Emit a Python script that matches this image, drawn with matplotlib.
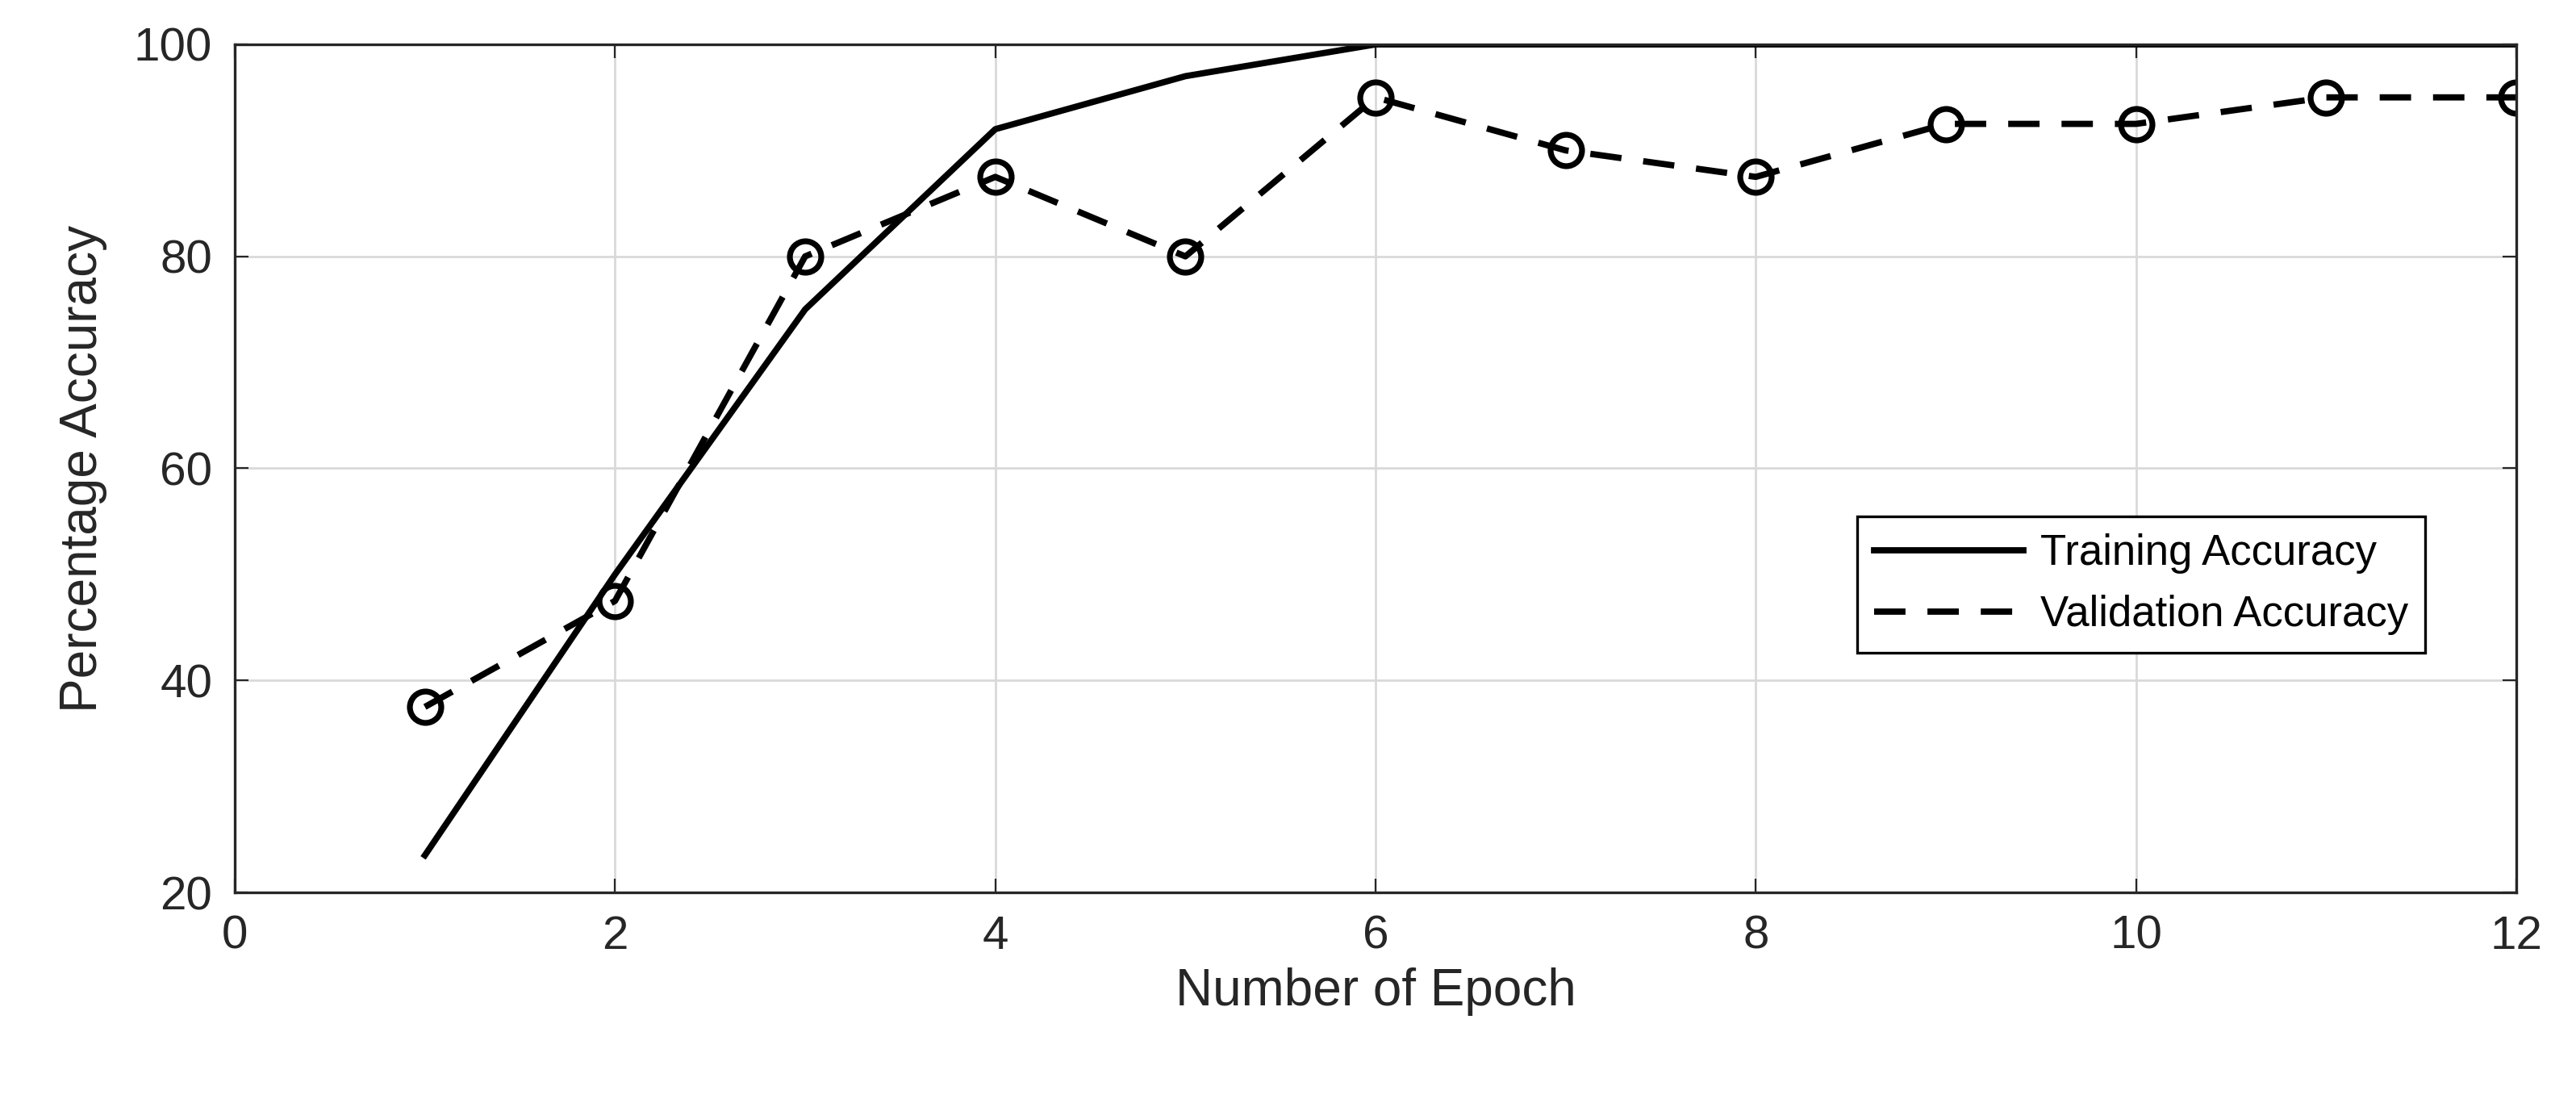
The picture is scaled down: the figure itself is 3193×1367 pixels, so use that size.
import numpy as np
import matplotlib.pyplot as plt

epochs = [1, 2, 3, 4, 5, 6, 7, 8, 9, 10, 11, 12]
train_acc = [23.5, 50, 75, 92, 97, 100, 100, 100, 100, 100, 100, 100]
val_acc = [37.5, 47.5, 80, 87.5, 80, 95, 90, 87.5, 92.5, 92.5, 95, 95]

plt.rcParams['font.family'] = ['Liberation Sans', 'DejaVu Sans']

fig = plt.figure(figsize=(15.965, 6.835), dpi=200)
ax = fig.add_axes([291/3193, 1 - 1106/1367, (3119-291)/3193, (1106-55)/1367])

ax.plot(epochs, train_acc, 'k-', lw=2.8, label='Training Accuracy')
ax.plot(epochs, val_acc, 'k--', lw=2.8, marker='o', markersize=14, markerfacecolor='none',
        markeredgewidth=2.6, dashes=(5, 3.5), label='Validation Accuracy')

ax.set_xlim(0, 12)
ax.set_ylim(20, 100)
ax.set_xticks(range(0, 13, 2))
ax.set_yticks(range(20, 101, 20))
ax.grid(True, color='#d9d9d9', lw=1)
ax.tick_params(labelsize=21, direction='in', length=6, pad=10, colors='#262626', top=True, right=True)
for s in ax.spines.values():
    s.set_color('#262626')
    s.set_linewidth(1.2)
ax.set_xlabel('Number of Epoch', fontsize=23, color='#262626', labelpad=4)
ax.set_ylabel('Percentage Accuracy', fontsize=23, color='#262626', labelpad=12)

leg = ax.legend(loc='lower right', bbox_to_anchor=(0.96, 0.283), fontsize=19,
                fancybox=False, framealpha=1, edgecolor='black', handlelength=3.5,
                markerscale=0, borderaxespad=0, handletextpad=0.4)
leg.get_frame().set_linewidth(1.2)

fig.savefig('out.png', dpi=200)
